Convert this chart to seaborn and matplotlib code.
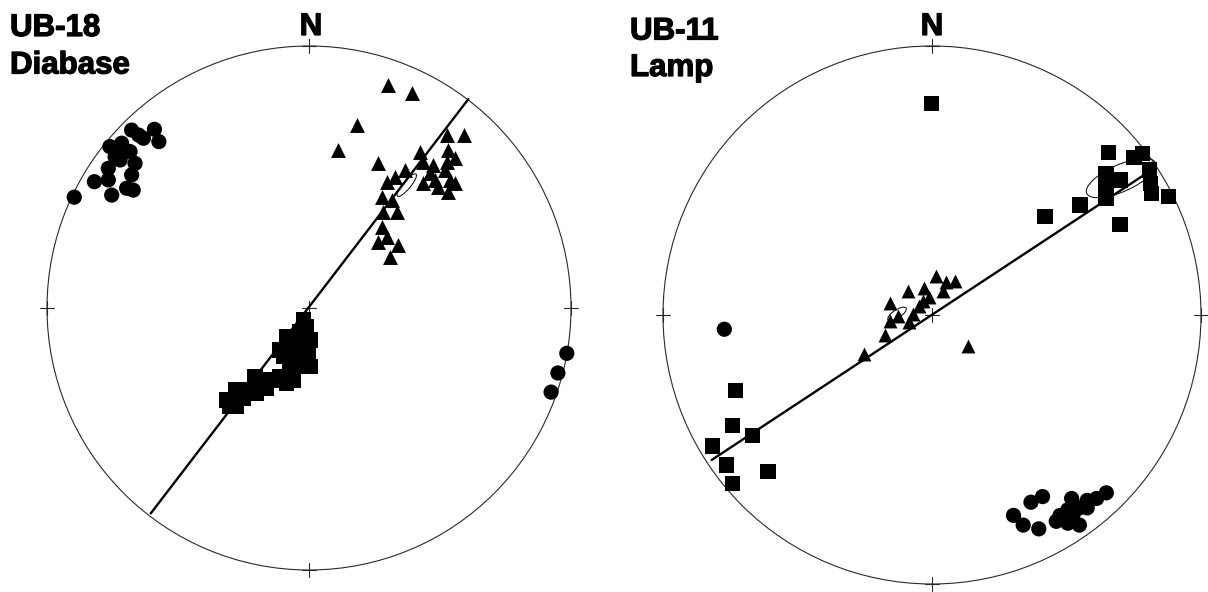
import numpy as np
import pandas as pd
import matplotlib
matplotlib.use("Agg")
import matplotlib.pyplot as plt
from matplotlib.patches import Circle, Ellipse
import matplotlib.patheffects as pe
import seaborn as sns

# ---------------- data (normalised stereonet coords: east, north; unit radius) ----------------
# UB-18 Diabase
ub18_circle_x = [-0.896, -0.819, -0.677, -0.590, -0.573, -0.632, -0.715, -0.760, -0.740, -0.683,
                 -0.664, -0.766, -0.766, -0.753, -0.696, -0.677, -0.671, -0.721, -0.650, -0.705,
                 0.984, 0.950, 0.924]
ub18_circle_y = [0.423, 0.482, 0.679, 0.682, 0.635, 0.648, 0.629, 0.616, 0.577, 0.597,
                 0.552, 0.533, 0.489, 0.431, 0.457, 0.508, 0.450, 0.565, 0.660, 0.595,
                 -0.173, -0.248, -0.321]
ub18_tri_x = [0.303, 0.392, 0.182, 0.112, 0.592, 0.526, 0.265, 0.424, 0.532, 0.436,
              0.474, 0.526, 0.557, 0.366, 0.328, 0.297, 0.436, 0.494, 0.538, 0.532,
              0.557, 0.277, 0.316, 0.335, 0.284, 0.277, 0.265, 0.341, 0.309, 0.297,
              0.462, 0.481, 0.519]
ub18_tri_y = [0.851, 0.822, 0.698, 0.603, 0.660, 0.660, 0.552, 0.597, 0.603, 0.558,
              0.546, 0.558, 0.571, 0.527, 0.501, 0.482, 0.476, 0.463, 0.489, 0.444,
              0.476, 0.425, 0.412, 0.368, 0.368, 0.310, 0.253, 0.240, 0.196, 0.272,
              0.514, 0.489, 0.527]
ub18_sq_x = [-0.314, -0.302, -0.282, -0.232, -0.206, -0.174, -0.111, -0.066, -0.111, -0.085,
             -0.053, -0.009, -0.022, -0.003, -0.034, -0.073, -0.041, -0.003, -0.009, -0.060,
             -0.156, -0.263, 0.004, -0.034, -0.060, -0.085, -0.130, -0.161, -0.200, -0.251,
             -0.276, 0.004, -0.098]
ub18_sq_y = [-0.351, -0.377, -0.313, -0.313, -0.262, -0.300, -0.262, -0.268, -0.160, -0.110,
             -0.198, -0.198, -0.046, -0.122, -0.090, -0.224, -0.148, -0.173, -0.071, -0.160,
             -0.275, -0.344, -0.122, -0.224, -0.275, -0.287, -0.275, -0.306, -0.326, -0.345,
             -0.377, -0.224, -0.186]
ub18_gc_x = [-0.604, 0.608]
ub18_gc_y = [-0.784, 0.797]

# UB-11 Lamp
ub11_circle_x = [0.648, 0.612, 0.577, 0.519, 0.548, 0.505, 0.476, 0.462, 0.505, 0.548,
                 0.411, 0.368, 0.303, 0.339, 0.397, 0.490, 0.526, 0.577, -0.772]
ub11_circle_y = [-0.661, -0.682, -0.689, -0.682, -0.717, -0.724, -0.745, -0.767, -0.774, -0.781,
                 -0.675, -0.696, -0.745, -0.781, -0.795, -0.759, -0.738, -0.717, -0.053]
ub11_sq_x = [-0.001, 0.657, 0.751, 0.783, 0.647, 0.701, 0.647, 0.647, 0.810, 0.813,
             0.817, 0.878, 0.550, 0.420, 0.699,
             -0.730, -0.743, -0.668, -0.815, -0.763, -0.610, -0.743]
ub11_sq_y = [0.785, 0.603, 0.586, 0.599, 0.527, 0.502, 0.477, 0.434, 0.539, 0.490,
             0.452, 0.440, 0.409, 0.365, 0.335,
             -0.281, -0.410, -0.449, -0.487, -0.558, -0.583, -0.626]
ub11_tri_x = [0.016, 0.052, 0.084, -0.030, -0.089, 0.042, -0.156, -0.033, -0.049, -0.128,
              -0.084, -0.156, -0.174, -0.254, 0.135, -0.013, -0.070]
ub11_tri_y = [0.145, 0.124, 0.128, 0.100, 0.088, 0.088, 0.046, 0.053, 0.032, -0.004,
              -0.025, -0.022, -0.074, -0.145, -0.117, 0.067, 0.004]
ub11_gc_x = [-0.819, 0.798]
ub11_gc_y = [-0.539, 0.527]

titles = [("UB-18", "Diabase"), ("UB-11", "Lamp")]

# ---------------- figure ----------------
W, H = 1208, 592
sns.set_theme(style="white")
plt.rcParams["font.family"] = ["Liberation Sans", "DejaVu Sans"]
fig = plt.figure(figsize=(W / 100, H / 100), dpi=100)
fig.patch.set_facecolor("white")

nets = [
    dict(cx=309, cy=308, R=262, x0=0,
         circ=(ub18_circle_x, ub18_circle_y), tri=(ub18_tri_x, ub18_tri_y),
         sq=(ub18_sq_x, ub18_sq_y), gc=(ub18_gc_x, ub18_gc_y),
         ells=[((0.373, 0.469), 0.11, 0.03, 50)], tri_s=115),
    dict(cx=932, cy=315, R=269, x0=604,
         circ=(ub11_circle_x, ub11_circle_y), tri=(ub11_tri_x, ub11_tri_y),
         sq=(ub11_sq_x, ub11_sq_y), gc=(ub11_gc_x, ub11_gc_y),
         ells=[((0.703, 0.509), 0.28, 0.10, 24), ((-0.13, 0.004), 0.08, 0.03, 33)], tri_s=100),
]

for i, n in enumerate(nets):
    ax = fig.add_axes([n["x0"] / W, 0, 604 / W, 1])
    R = n["R"]
    ax.set_xlim((n["x0"] - n["cx"]) / R, (n["x0"] + 604 - n["cx"]) / R)
    ax.set_ylim((n["cy"] - H) / R, n["cy"] / R)
    ax.axis("off")

    ax.add_patch(Circle((0, 0), 1.0, fill=False, lw=0.8, ec="#2a2a2a", zorder=1))
    t = 0.026
    for (px, py) in [(0, 1), (0, -1), (1, 0), (-1, 0), (0, 0)]:
        ax.plot([px - t, px + t], [py, py], color="#2a2a2a", lw=0.8, zorder=1)
        ax.plot([px, px], [py - t, py + t], color="#2a2a2a", lw=0.8, zorder=1)

    gdf = pd.DataFrame({"x": n["gc"][0], "y": n["gc"][1]})
    sns.lineplot(data=gdf, x="x", y="y", ax=ax, color="black", lw=1.7,
                 sort=False, estimator=None, zorder=2)

    for (c, w, h, a) in n["ells"]:
        ax.add_patch(Ellipse(c, w, h, angle=a, fill=False, lw=0.7, ec="black", zorder=4))

    df = pd.concat([
        pd.DataFrame({"x": n["circ"][0], "y": n["circ"][1], "k": "circle"}),
        pd.DataFrame({"x": n["sq"][0], "y": n["sq"][1], "k": "square"}),
    ])
    sns.scatterplot(data=df, x="x", y="y", style="k",
                    markers={"circle": "o", "square": "s"}, s=120,
                    color="black", linewidth=0, legend=False, ax=ax, zorder=3)
    tdf = pd.DataFrame({"x": n["tri"][0], "y": n["tri"][1]})
    sns.scatterplot(data=tdf, x="x", y="y", marker="^", s=n["tri_s"],
                    color="black", linewidth=0, legend=False, ax=ax, zorder=3)
    ax.set_xlabel("")
    ax.set_ylabel("")

# titles & N labels
fs = 22.5
stroke = [pe.withStroke(linewidth=0.9, foreground="black")]
kw = dict(fontsize=fs, fontweight="bold", va="baseline", color="black", path_effects=stroke)
fig.text(10 / W, 1 - 36 / H, titles[0][0], ha="left", **kw)
fig.text(10 / W, 1 - 73.5 / H, titles[0][1], ha="left", **kw)
fig.text(630 / W, 1 - 39.5 / H, titles[1][0], ha="left", **kw)
fig.text(630 / W, 1 - 76 / H, titles[1][1], ha="left", **kw)
fig.text(311 / W, 1 - 35 / H, "N", ha="center", **kw)
fig.text(932 / W, 1 - 35 / H, "N", ha="center", **kw)

fig.savefig("out.png", dpi=100, facecolor="white")
